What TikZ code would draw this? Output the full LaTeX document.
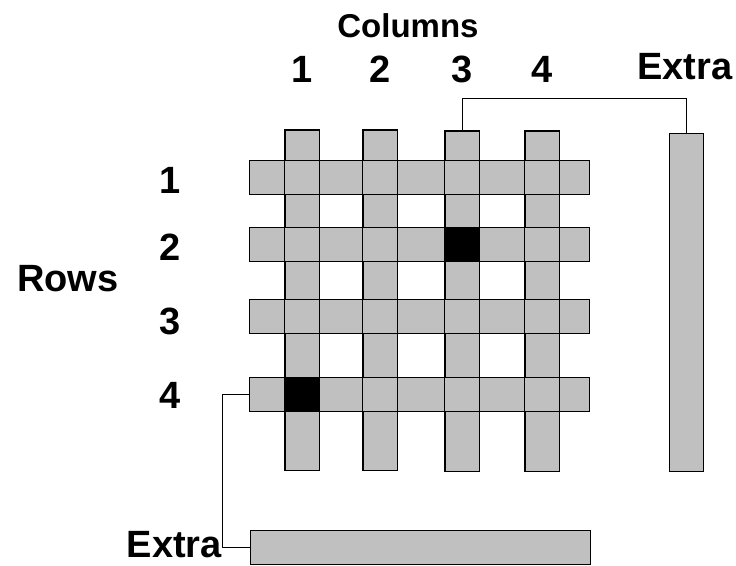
\documentclass[tikz,border=0pt]{standalone}
\usepackage{fontspec}
\setmainfont{Liberation Sans}
\usepackage{tikz}
\tikzstyle{colbar}=[rectangle, draw=black, fill=lightgray, line width=0.9pt,
inner sep=0pt, minimum width=34pt, minimum height=340pt]
\tikzstyle{rowbar}=[rectangle, draw=black, fill=lightgray, line width=0.9pt,
inner sep=0pt, minimum width=340pt, minimum height=34pt]
\tikzstyle{lab}=[font=\bfseries\fontsize{38}{42}\selectfont, inner sep=0pt]
\definecolor{lightgray}{HTML}{C0C0C0}

\begin{document}
\begin{tikzpicture}[x=1pt, y=-1pt]
  \useasboundingbox (0,0) rectangle (736,565);

  % Headings
  \node (columns) at (408, 26) [lab, font=\bfseries\fontsize{33}{38}\selectfont] {Columns};
  \node (rows) at (68, 279) [lab] {Rows};

  % Column numbers
  \node (n1) at (302, 69) [lab] {1};
  \node (n2) at (380, 69) [lab] {2};
  \node (n3) at (462, 69) [lab] {3};
  \node (n4) at (542, 69) [lab] {4};
  \node (xtop) at (685, 67) [lab] {Extra};

  % Row numbers
  \node (m1) at (170, 180) [lab] {1};
  \node (m2) at (170, 247) [lab] {2};
  \node (m3) at (170, 321) [lab] {3};
  \node (m4) at (170, 395) [lab] {4};
  \node (xbot) at (222, 545) [lab, anchor=east] {Extra};

  % Columns
  \node (c1) at (302.3, 300.2) [colbar]{};
  \node (c2) at (380.3, 300.2) [colbar]{};
  \node (c3) at (462.3, 301.3) [colbar]{};
  \node (c4) at (542.3, 301.3) [colbar]{};

  % Rows
  \node (r1) at (419.3, 177.3) [rowbar]{};
  \node (r2) at (419.3, 244.3) [rowbar]{};
  \node (r3) at (419.3, 316.7) [rowbar]{};
  \node (r4) at (419.3, 394.2) [rowbar]{};

  % Column outlines across the rows
  \foreach \c in {c1, c2, c3, c4}
    \draw[line width=0.9pt] (\c.south west) rectangle (\c.north east);

  % Marked cells
  \fill[black] (c3.west |- r2.north) rectangle (c3.east |- r2.south);
  \fill[black] (c1.west |- r4.north) rectangle (c1.east |- r4.south);

  % Extra bars
  \node (xcol) at (686.8, 302.2) [colbar, minimum height=338pt]{};
  \node (xrow) at (420.5, 547.3) [rowbar]{};

  % Links
  \draw[line width=0.8pt] (c3.north) -- ++(0,-32) -| (xcol.north);
  \draw[line width=0.8pt] (r4.west) -- ++(-26.6,0) |- (xrow.west);
\end{tikzpicture}
\end{document}
